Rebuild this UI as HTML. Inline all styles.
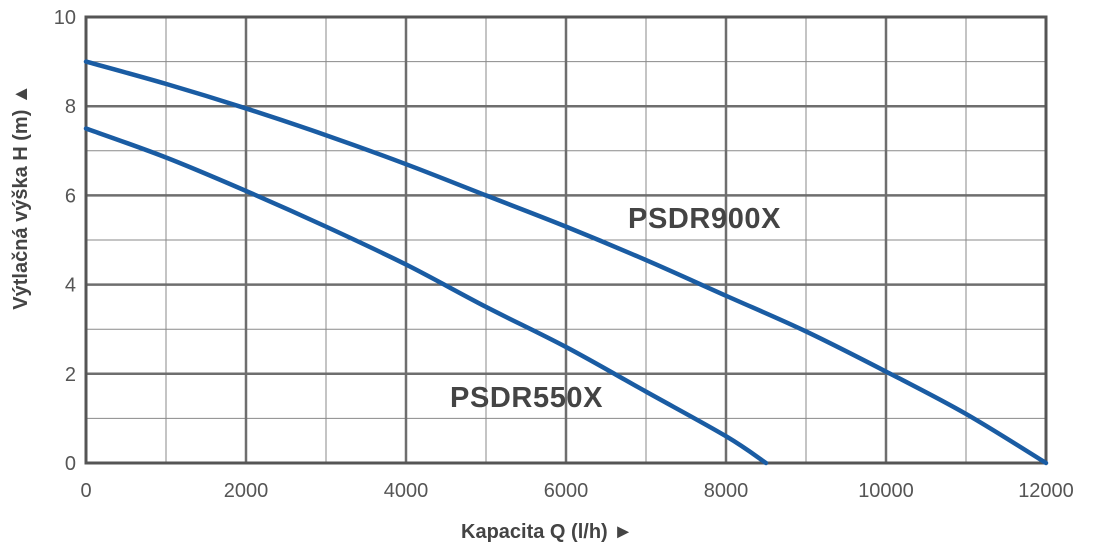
<!DOCTYPE html>
<html><head><meta charset="utf-8">
<style>
html,body{margin:0;padding:0;background:#fff;}
svg{display:block;font-family:"Liberation Sans",Arial,sans-serif;}
</style></head>
<body>
<svg id="chart" width="1100" height="556" viewBox="0 0 1100 556" xmlns="http://www.w3.org/2000/svg"></svg>
<script>
const xTicks=[0,2000,4000,6000,8000,10000,12000];
const yTicks=[0,2,4,6,8,10];
const series900Q=[0,1000,2000,3000,4000,5000,6000,7000,8000,9000,10000,11000,12000];
const series900H=[9,8.5,7.95,7.35,6.7,6.0,5.3,4.55,3.75,2.95,2.05,1.1,0];
const series550Q=[0,1000,2000,3000,4000,5000,6000,7000,8000,8500];
const series550H=[7.5,6.85,6.1,5.3,4.45,3.5,2.6,1.6,0.6,0];
const seriesNames=["PSDR900X","PSDR550X"];

const X0=86,X1=1046,Y0=463,Y1=17;
const sx=v=>X0+(v-0)/(12000-0)*(X1-X0);
const sy=v=>Y0-(v-0)/(10-0)*(Y0-Y1);
const NS="http://www.w3.org/2000/svg";
const svg=document.getElementById('chart');
function mk(tag,attrs){const e=document.createElementNS(NS,tag);for(const k in attrs)e.setAttribute(k,attrs[k]);svg.appendChild(e);return e;}

for(let q=1000;q<12000;q+=2000){
  const l=mk('line',{x1:sx(q),x2:sx(q),y1:Y1,y2:Y0,stroke:'#8a8a8a','stroke-width':1});
  
  
}
for(let h=1;h<10;h+=2){
  const l=mk('line',{x1:X0,x2:X1,y1:sy(h),y2:sy(h),stroke:'#8a8a8a','stroke-width':1});
  
  
}
xTicks.forEach(q=>{
  const l=mk('line',{x1:sx(q),x2:sx(q),y1:Y1,y2:Y0,stroke:'#6e6e6e','stroke-width':2.5});
  
  
  const t=mk('text',{x:sx(q),y:497,'text-anchor':'middle','font-size':20,fill:'#555'});
  t.textContent=q;
  
  
});
yTicks.forEach(h=>{
  const l=mk('line',{x1:X0,x2:X1,y1:sy(h),y2:sy(h),stroke:'#6e6e6e','stroke-width':2.5});
  
  
  const t=mk('text',{x:76,y:sy(h)+7,'text-anchor':'end','font-size':20,fill:'#555'});
  t.textContent=h;
  
  
});
const fr=mk('rect',{x:X0,y:Y1,width:X1-X0,height:Y0-Y1,fill:'none',stroke:'#555','stroke-width':3});



function curve(qs,hs,name){
  const pts=qs.map((q,i)=>[sx(q),sy(hs[i])]);
  let d='M'+pts[0][0]+','+pts[0][1];
  for(let i=0;i<pts.length-1;i++){
    const p0=pts[Math.max(0,i-1)],p1=pts[i],p2=pts[i+1],p3=pts[Math.min(pts.length-1,i+2)];
    const c1=[p1[0]+(p2[0]-p0[0])/6,p1[1]+(p2[1]-p0[1])/6];
    const c2=[p2[0]-(p3[0]-p1[0])/6,p2[1]-(p3[1]-p1[1])/6];
    d+=' C'+c1+' '+c2+' '+p2;
  }
  const p=mk('path',{d:d,fill:'none',stroke:'#1a5ca3','stroke-width':4.5,'stroke-linecap':'round'});
  
  
}
curve(series900Q,series900H,'curve-psdr900x');
curve(series550Q,series550H,'curve-psdr550x');

const l1=mk('text',{x:628,y:228,'font-size':29,'font-weight':'bold',fill:'#444','letter-spacing':'0.6'});
l1.textContent=seriesNames[0];


const l2=mk('text',{x:450,y:407,'font-size':29,'font-weight':'bold',fill:'#444','letter-spacing':'0.6'});
l2.textContent=seriesNames[1];



const xt=mk('text',{x:461,y:538,'font-size':20,'font-weight':'bold',fill:'#444'});
xt.textContent='Kapacita Q (l/h)     ►';
xt.setAttribute('xml:space','preserve');


const yt=mk('text',{x:0,y:0,'font-size':20,'font-weight':'bold',fill:'#444','text-anchor':'middle',transform:'translate(27,197) rotate(-90)'});
yt.textContent='Výtlačná výška H (m)     ▲';
yt.setAttribute('xml:space','preserve');


</script>
</body></html>
